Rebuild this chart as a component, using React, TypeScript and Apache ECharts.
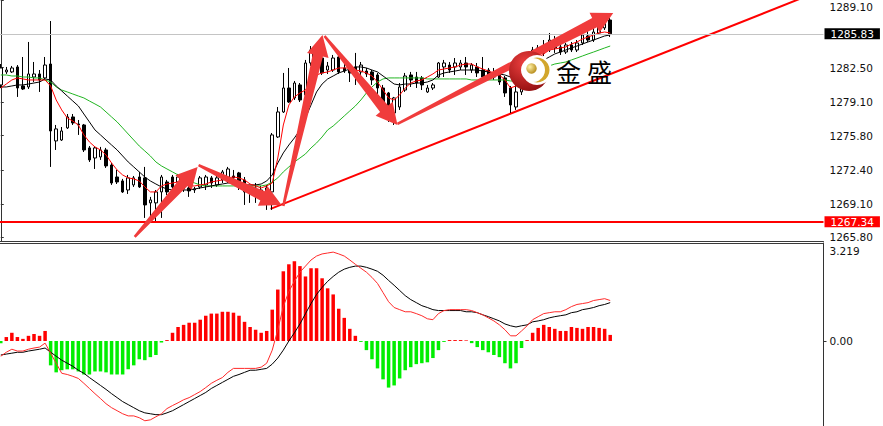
import React, { useEffect, useRef } from "react";
import * as echarts from "echarts";

// ---- data ----
const SLOTS = 149; // category slots along the time axis (111 bars + empty space up to the price scale)
const categories = Array.from({ length: SLOTS }, (_, i) => String(i + 1));

// [open, close, low, high]
const candles: number[][] = [
  [1280.80, 1282.47, 1280.50, 1282.86], [1282.08, 1282.27, 1281.88, 1282.57], [1282.08, 1282.47, 1281.98, 1282.67],
  [1282.57, 1280.50, 1279.62, 1282.76], [1280.70, 1280.40, 1280.30, 1283.55], [1280.60, 1281.88, 1280.40, 1285.03],
  [1281.58, 1281.88, 1281.09, 1283.06], [1281.88, 1281.29, 1280.11, 1282.27], [1281.49, 1282.76, 1281.29, 1283.55],
  [1282.86, 1276.27, 1272.73, 1287.09], [1275.29, 1276.47, 1274.40, 1276.86], [1275.38, 1276.27, 1275.29, 1276.66],
  [1276.57, 1277.65, 1276.47, 1277.94], [1277.65, 1277.06, 1276.86, 1277.94], [1276.96, 1276.86, 1275.88, 1277.35],
  [1276.86, 1274.40, 1274.20, 1276.96], [1274.60, 1273.42, 1273.22, 1274.79], [1273.61, 1274.60, 1272.53, 1274.79],
  [1273.71, 1274.40, 1273.42, 1274.70], [1274.40, 1272.83, 1272.63, 1274.60], [1272.92, 1271.15, 1270.96, 1273.12],
  [1271.74, 1271.25, 1271.05, 1272.43], [1271.35, 1270.27, 1270.17, 1271.55], [1270.46, 1271.65, 1270.07, 1271.94],
  [1270.96, 1271.65, 1270.76, 1271.84], [1271.74, 1270.76, 1270.66, 1272.24], [1271.65, 1268.99, 1267.71, 1272.73],
  [1269.19, 1269.48, 1267.22, 1269.78], [1269.19, 1270.27, 1267.22, 1270.46], [1270.27, 1271.74, 1267.71, 1271.94],
  [1271.25, 1270.27, 1269.97, 1271.45], [1271.74, 1270.76, 1270.46, 1271.94], [1271.25, 1271.74, 1270.96, 1272.04],
  [1271.05, 1270.56, 1270.27, 1271.25], [1270.66, 1270.37, 1269.78, 1270.86], [1270.46, 1270.56, 1270.17, 1270.76],
  [1270.76, 1271.65, 1270.56, 1271.84], [1270.96, 1271.74, 1270.46, 1271.94], [1271.65, 1271.15, 1270.66, 1271.84],
  [1270.96, 1271.65, 1270.76, 1271.84], [1271.45, 1272.24, 1271.15, 1272.43], [1271.65, 1272.53, 1271.15, 1272.73],
  [1271.84, 1271.65, 1270.96, 1272.43], [1272.14, 1271.25, 1270.46, 1272.24], [1271.45, 1270.27, 1268.99, 1271.74],
  [1270.46, 1270.17, 1269.19, 1270.76], [1270.17, 1270.66, 1269.19, 1271.15], [1270.46, 1270.17, 1269.48, 1270.86],
  [1270.17, 1270.66, 1268.50, 1270.96], [1270.27, 1275.88, 1268.50, 1276.07], [1275.68, 1278.14, 1275.58, 1278.63],
  [1278.14, 1280.50, 1278.04, 1281.98], [1280.50, 1279.12, 1279.03, 1282.47], [1279.52, 1280.99, 1279.32, 1281.19],
  [1280.80, 1279.32, 1279.12, 1280.99], [1279.81, 1282.96, 1279.62, 1283.26], [1282.96, 1284.24, 1282.67, 1284.63],
  [1284.04, 1282.76, 1282.27, 1284.24], [1283.45, 1281.98, 1281.78, 1283.65], [1282.27, 1282.67, 1281.88, 1283.06],
  [1282.27, 1283.45, 1282.08, 1283.75], [1283.55, 1282.08, 1281.88, 1283.95], [1282.47, 1282.17, 1281.98, 1282.96],
  [1282.47, 1281.98, 1281.09, 1282.76], [1282.57, 1281.98, 1280.80, 1283.95], [1282.08, 1282.76, 1281.78, 1283.06],
  [1282.17, 1281.88, 1281.58, 1282.47], [1282.08, 1281.29, 1280.80, 1282.27], [1281.78, 1280.50, 1279.62, 1281.98],
  [1280.50, 1279.03, 1278.34, 1280.80], [1280.01, 1277.65, 1277.16, 1280.11], [1278.04, 1279.52, 1276.86, 1279.62],
  [1278.63, 1280.60, 1278.34, 1280.99], [1280.30, 1281.68, 1280.11, 1281.98], [1281.78, 1281.29, 1280.60, 1282.08],
  [1281.58, 1280.99, 1280.50, 1282.08], [1281.49, 1280.80, 1280.30, 1281.68], [1280.11, 1280.50, 1280.01, 1280.80],
  [1280.50, 1280.80, 1280.30, 1280.99], [1281.58, 1282.96, 1281.49, 1283.06], [1282.57, 1282.96, 1281.58, 1283.26],
  [1282.76, 1282.27, 1281.98, 1283.06], [1282.57, 1282.96, 1281.78, 1283.45], [1282.57, 1282.96, 1282.27, 1283.26],
  [1282.96, 1282.57, 1281.78, 1283.55], [1282.27, 1282.76, 1281.98, 1282.96], [1282.57, 1281.98, 1281.58, 1282.96],
  [1282.27, 1281.58, 1281.29, 1283.55], [1282.27, 1281.78, 1281.58, 1282.47], [1281.98, 1281.58, 1281.29, 1282.47],
  [1281.78, 1281.09, 1280.80, 1281.98], [1281.49, 1280.01, 1279.62, 1281.68], [1280.50, 1278.83, 1278.04, 1280.70],
  [1278.63, 1280.11, 1278.34, 1280.80], [1280.11, 1281.49, 1279.81, 1281.68], [1281.58, 1282.47, 1281.29, 1282.76],
  [1283.45, 1284.24, 1283.06, 1284.54], [1283.75, 1284.44, 1283.55, 1284.73], [1284.44, 1283.95, 1283.65, 1285.22],
  [1284.24, 1285.22, 1284.04, 1285.91], [1285.03, 1284.44, 1283.95, 1285.62], [1284.54, 1284.04, 1283.75, 1284.83],
  [1284.04, 1284.73, 1283.85, 1284.93], [1284.73, 1284.24, 1284.04, 1285.03], [1284.24, 1284.93, 1284.04, 1285.22],
  [1284.93, 1285.72, 1284.73, 1286.21], [1285.62, 1285.22, 1285.03, 1286.21], [1285.22, 1286.01, 1285.03, 1286.41],
  [1285.91, 1286.60, 1285.72, 1287.00], [1286.41, 1287.09, 1286.21, 1287.49], [1287.19, 1285.83, 1285.52, 1287.39],
];

const maFast = [
  1280.50, 1280.89, 1281.29, 1281.49, 1281.39, 1281.29, 1281.29, 1281.29, 1281.29, 1280.70,
  1279.32, 1278.34, 1277.55, 1277.25, 1276.86, 1275.88, 1275.19, 1274.70, 1274.40, 1273.91,
  1273.12, 1272.43, 1271.94, 1271.65, 1271.55, 1271.35, 1270.76, 1270.27, 1270.27, 1270.86,
  1271.05, 1271.15, 1271.25, 1271.05, 1270.86, 1270.86, 1270.96, 1271.05, 1271.25, 1271.35,
  1271.45, 1271.65, 1271.74, 1271.65, 1271.45, 1271.05, 1270.86, 1270.66, 1270.86, 1271.15,
  1273.61, 1276.86, 1278.83, 1279.62, 1280.01, 1280.30, 1281.09, 1281.78, 1281.98, 1282.08,
  1282.27, 1282.47, 1282.47, 1282.47, 1282.27, 1282.17, 1281.98, 1281.68, 1281.09, 1280.30,
  1279.52, 1279.32, 1279.81, 1280.50, 1280.99, 1281.19, 1281.29, 1281.58, 1281.88, 1282.27,
  1282.37, 1282.47, 1282.57, 1282.76, 1282.86, 1282.86, 1282.57, 1282.37, 1282.17, 1281.98,
  1281.78, 1281.29, 1280.50, 1280.70, 1281.29, 1282.08, 1282.86, 1283.45, 1283.85, 1284.24,
  1284.34, 1284.44, 1284.54, 1284.83, 1285.03, 1285.32, 1285.52, 1285.72, 1285.91, 1286.01,
  1285.91,
];

const maMid = [
  1280.60, 1280.60, 1280.70, 1280.80, 1280.80, 1280.89, 1280.99, 1281.09, 1281.39, 1281.29,
  1280.70, 1280.21, 1279.71, 1279.22, 1278.73, 1277.94, 1277.16, 1276.37, 1275.88, 1275.38,
  1274.89, 1274.40, 1273.81, 1273.22, 1272.73, 1272.24, 1271.74, 1271.35, 1271.05, 1270.76,
  1270.56, 1270.46, 1270.46, 1270.46, 1270.46, 1270.56, 1270.66, 1270.76, 1270.86, 1270.96,
  1271.05, 1271.15, 1271.15, 1271.05, 1270.96, 1270.96, 1270.96, 1271.05, 1271.35, 1271.94,
  1273.12, 1274.11, 1274.89, 1275.58, 1276.37, 1277.55, 1278.83, 1280.11, 1280.89, 1281.39,
  1281.68, 1281.98, 1282.17, 1282.37, 1282.57, 1282.57, 1282.47, 1282.27, 1282.08, 1281.68,
  1281.29, 1280.89, 1280.80, 1280.89, 1280.89, 1280.99, 1280.99, 1281.09, 1281.29, 1281.78,
  1281.98, 1282.08, 1282.17, 1282.27, 1282.27, 1282.27, 1282.27, 1282.17, 1282.08, 1281.98,
  1281.88, 1281.78, 1281.58, 1281.49, 1281.68, 1282.08, 1282.47, 1282.86, 1283.26, 1283.55,
  1283.85, 1284.04, 1284.24, 1284.44, 1284.63, 1284.83, 1285.03, 1285.22, 1285.42, 1285.62,
  1285.72,
];

const maSlow = [
  1281.78, 1281.78, 1281.68, 1281.68, 1281.58, 1281.58, 1281.49, 1281.49, 1281.29, 1281.09,
  1280.60, 1280.30, 1280.11, 1279.91, 1279.71, 1279.52, 1279.22, 1278.93, 1278.63, 1278.14,
  1277.65, 1277.16, 1276.57, 1275.97, 1275.38, 1274.79, 1274.30, 1273.81, 1273.22, 1272.83,
  1272.53, 1272.24, 1271.94, 1271.65, 1271.35, 1271.15, 1270.96, 1270.86, 1270.86, 1270.86,
  1270.86, 1270.86, 1270.86, 1270.86, 1270.86, 1270.86, 1270.86, 1270.86, 1270.96, 1271.25,
  1271.65, 1272.24, 1272.73, 1273.22, 1273.61, 1274.01, 1274.60, 1275.09, 1275.68, 1276.37,
  1276.76, 1277.25, 1277.75, 1278.24, 1278.73, 1279.32, 1280.01, 1280.60, 1281.09, 1281.39,
  1281.49, 1281.49, 1281.49, 1281.49, 1281.49, 1281.49, 1281.49, 1281.39, 1281.39, 1281.39,
  1281.39, 1281.39, 1281.39, 1281.39, 1281.39, 1281.29, 1281.29, 1281.29, 1281.29, 1281.29,
  1281.29, 1281.29, 1281.19, 1281.19, 1281.29, 1281.58, 1281.88, 1282.17, 1282.47, 1282.67,
  1282.86, 1282.96, 1283.06, 1283.26, 1283.45, 1283.65, 1283.85, 1284.04, 1284.24, 1284.44,
  1284.63,
];

const macdHist = [
  -0.07, 0.13, 0.27, 0.13, 0.07, 0.17, 0.23, 0.17, 0.33, -0.80,
  -1.03, -0.96, -0.93, -0.93, -1.00, -1.10, -1.10, -1.00, -1.00, -1.03,
  -1.10, -1.10, -1.10, -0.93, -0.80, -0.60, -0.63, -0.53, -0.46, -0.05,
  0.03, 0.27, 0.46, 0.53, 0.60, 0.60, 0.70, 0.83, 0.90, 0.90,
  0.96, 0.96, 0.93, 0.83, 0.63, 0.46, 0.37, 0.27, 0.33, 1.03,
  1.69, 2.29, 2.52, 2.62, 2.46, 2.12, 2.39, 2.39, 2.06, 1.73,
  1.53, 1.06, 0.76, 0.40, 0.17, -0.03, -0.30, -0.60, -0.90, -1.26,
  -1.53, -1.46, -1.23, -0.96, -0.86, -0.76, -0.73, -0.70, -0.56, -0.30,
  -0.03, 0.03, 0.03, 0.03, 0.02, -0.07, -0.20, -0.30, -0.37, -0.46,
  -0.53, -0.73, -0.90, -0.73, -0.23, 0.03, 0.27, 0.43, 0.53, 0.46,
  0.40, 0.33, 0.33, 0.46, 0.43, 0.40, 0.46, 0.46, 0.43, 0.40,
  0.20,
];

const macdMain = [
  -0.50, -0.37, -0.27, -0.33, -0.33, -0.27, -0.23, -0.20, -0.07, -0.40,
  -0.73, -1.06, -1.10, -1.16, -1.23, -1.39, -1.56, -1.73, -1.89, -2.06,
  -2.19, -2.29, -2.39, -2.46, -2.46, -2.52, -2.62, -2.59, -2.49, -2.39,
  -2.22, -2.12, -2.03, -1.93, -1.86, -1.76, -1.66, -1.53, -1.39, -1.29,
  -1.20, -1.03, -0.90, -0.90, -0.90, -0.90, -0.90, -0.86, -0.73, -0.30,
  0.37, 1.13, 1.63, 1.96, 2.26, 2.46, 2.66, 2.79, 2.86, 2.89,
  2.92, 2.86, 2.79, 2.66, 2.52, 2.39, 2.26, 2.09, 1.89, 1.59,
  1.29, 1.10, 1.03, 0.96, 0.96, 0.90, 0.83, 0.73, 0.70, 0.90,
  1.00, 1.03, 1.03, 1.03, 1.03, 1.00, 0.93, 0.86, 0.76, 0.66,
  0.53, 0.37, 0.17, 0.17, 0.33, 0.50, 0.70, 0.80, 0.90, 0.93,
  0.96, 0.96, 1.03, 1.13, 1.20, 1.23, 1.26, 1.33, 1.36, 1.39,
  1.33,
];

const macdSignal = [
  -0.46, -0.43, -0.40, -0.37, -0.37, -0.33, -0.30, -0.27, -0.23, -0.37,
  -0.50, -0.63, -0.73, -0.83, -0.96, -1.06, -1.20, -1.33, -1.46, -1.59,
  -1.73, -1.86, -1.99, -2.09, -2.19, -2.29, -2.36, -2.39, -2.42, -2.42,
  -2.36, -2.29, -2.19, -2.09, -1.99, -1.89, -1.79, -1.69, -1.56, -1.46,
  -1.36, -1.26, -1.16, -1.10, -1.03, -0.96, -0.96, -0.93, -0.90, -0.76,
  -0.56, -0.30, 0.00, 0.27, 0.56, 0.90, 1.23, 1.53, 1.76, 1.96,
  2.12, 2.26, 2.36, 2.42, 2.46, 2.46, 2.42, 2.36, 2.29, 2.16,
  1.99, 1.83, 1.66, 1.49, 1.36, 1.26, 1.16, 1.10, 1.03, 1.00,
  1.00, 1.00, 1.00, 1.00, 0.96, 0.96, 0.93, 0.86, 0.80, 0.73,
  0.66, 0.56, 0.50, 0.46, 0.50, 0.53, 0.63, 0.66, 0.70, 0.76,
  0.80, 0.83, 0.86, 0.93, 0.96, 1.03, 1.06, 1.10, 1.16, 1.20,
  1.26,
];

const priceTicks = [1289.1, 1282.5, 1279.1, 1275.8, 1272.4, 1269.1, 1265.8];
const priceMin = 1265.44;
const priceMax = 1289.16;
const lastPrice = 1285.83;
const supportLevel = 1267.34;
const macdTop = 3.219;
const macdMin = -2.792;
const macdTicks = [0, macdTop];

// trend line: [bar position, price]
const trendLine = [[48.7, 1268.6], [148.5, 1290.2]];
// arrows: [tail position, tail price, tip position, tip price]
const arrows = [
  [24.17, 1265.84, 35.53, 1272.73],
  [35.7, 1272.9, 50.68, 1268.99],
  [51.0, 1268.89, 58.07, 1285.72],
  [58.43, 1285.62, 71.6, 1276.86],
  [71.6, 1276.96, 110.55, 1287.88],
];

const FONT = "DejaVu Sans";
const ARROW = { tail: 2.5, body: 10.5, head: 22, headLen: 21 };

export default function App() {
  const ref = useRef<HTMLDivElement>(null);
  useEffect(() => {
    document.body.style.margin = "0";
    const chart = echarts.init(ref.current!, null, { renderer: "svg" });
    const hidden = {
      axisLine: { show: false }, axisTick: { show: false },
      axisLabel: { show: false }, splitLine: { show: false },
    };
    const option: any = {
      animation: false,
      backgroundColor: "#ffffff",
      tooltip: { show: false },
      grid: [
        { left: -2, top: 0, width: 825.5, height: 241, outerBoundsMode: "none", containLabel: false },
        { left: -2, top: 243, width: 825.5, height: 183, outerBoundsMode: "none", containLabel: false },
      ],
      xAxis: [
        {
          type: "category", gridIndex: 0, data: categories, boundaryGap: true,
          axisLine: { show: true, onZero: false, lineStyle: { color: "#3a3a3a", width: 1 } },
          axisTick: { show: false }, axisLabel: { show: false }, splitLine: { show: false },
        },
        { type: "value", gridIndex: 0, min: -0.5, max: SLOTS - 0.5, ...hidden },
        {
          type: "category", gridIndex: 1, data: categories, boundaryGap: true, position: "top",
          axisLine: { show: true, onZero: false, lineStyle: { color: "#3a3a3a", width: 1 } },
          axisTick: { show: false }, axisLabel: { show: false }, splitLine: { show: false },
        },
      ],
      yAxis: [
        {
          type: "value", gridIndex: 0, position: "right", min: priceMin, max: priceMax,
          axisLine: { show: true, lineStyle: { color: "#333", width: 1 } },
          axisTick: { show: true, inside: false, length: 3, customValues: priceTicks, lineStyle: { color: "#333" } },
          axisLabel: {
            customValues: priceTicks, margin: 6, color: "#111", fontSize: 10.5, fontFamily: FONT,
            formatter: (v: number) => (v > priceMax - 0.2 ? `{top|${v.toFixed(2)}}` : v.toFixed(2)),
            rich: { top: { padding: [12, 0, 0, 0], color: "#111", fontSize: 10.5, fontFamily: FONT } },
          },
          splitLine: { show: false },
        },
        {
          type: "value", gridIndex: 1, position: "right", min: macdMin, max: macdTop,
          axisLine: { show: true, lineStyle: { color: "#333", width: 1 } },
          axisTick: { show: true, length: 3, customValues: [0], lineStyle: { color: "#333" } },
          axisLabel: {
            customValues: macdTicks, margin: 6, color: "#111", fontSize: 10.5, fontFamily: FONT,
            formatter: (v: number) => (Math.abs(v) < 1e-9 ? "0.00" : `{t|${v.toFixed(3)}}`),
            rich: { t: { padding: [15, 0, 0, 0], color: "#111", fontSize: 10.5, fontFamily: FONT } },
          },
          splitLine: { show: false },
        },
      ],
      series: [
        {
          type: "line", xAxisIndex: 1, yAxisIndex: 0, data: trendLine, symbol: "none", silent: true,
          clip: true, z: 1, lineStyle: { color: "#ff0000", width: 2 },
        },
        {
          type: "candlestick", xAxisIndex: 0, yAxisIndex: 0, data: candles, barWidth: 3, z: 2,
          itemStyle: { color: "#ffffff", color0: "#000000", borderColor: "#000000", borderColor0: "#000000", borderWidth: 1 },
          markLine: {
            silent: true, symbol: ["none", "none"], animation: false,
            data: [
              {
                yAxis: lastPrice, lineStyle: { color: "#c4c4c4", width: 1, type: "solid" },
                label: {
                  show: true, position: "end", distance: 1, formatter: () => lastPrice.toFixed(2),
                  color: "#fff", backgroundColor: "#000", padding: [1, 6, 0, 6], lineHeight: 10,
                  fontSize: 10.5, fontFamily: FONT,
                },
              },
              {
                yAxis: supportLevel, lineStyle: { color: "#ff0000", width: 2, type: "solid" },
                label: {
                  show: true, position: "end", distance: 1, formatter: () => supportLevel.toFixed(2),
                  color: "#fff", backgroundColor: "#ff0000", padding: [1, 6, 0, 6], lineHeight: 10,
                  fontSize: 10.5, fontFamily: FONT,
                },
              },
            ],
          },
        },
        { type: "line", xAxisIndex: 0, yAxisIndex: 0, data: maSlow, symbol: "none", silent: true, z: 3, lineStyle: { color: "#22b522", width: 1 } },
        { type: "line", xAxisIndex: 0, yAxisIndex: 0, data: maMid, symbol: "none", silent: true, z: 3, lineStyle: { color: "#000000", width: 1 } },
        { type: "line", xAxisIndex: 0, yAxisIndex: 0, data: maFast, symbol: "none", silent: true, z: 3, lineStyle: { color: "#ff0000", width: 1 } },
        {
          type: "custom", xAxisIndex: 1, yAxisIndex: 0, data: arrows, z: 5, silent: true,
          encode: { x: [0, 2], y: [1, 3] },
          renderItem: (_p: any, api: any) => {
            const t = api.coord([api.value(0), api.value(1)]);
            const p = api.coord([api.value(2), api.value(3)]);
            const dx = p[0] - t[0], dy = p[1] - t[1];
            const len = Math.hypot(dx, dy) || 1;
            const ux = dx / len, uy = dy / len;
            const nx = -uy, ny = ux;
            const bx = p[0] - ux * ARROW.headLen, by = p[1] - uy * ARROW.headLen;
            const pts = [
              [t[0] + (nx * ARROW.tail) / 2, t[1] + (ny * ARROW.tail) / 2],
              [bx + (nx * ARROW.body) / 2, by + (ny * ARROW.body) / 2],
              [bx + (nx * ARROW.head) / 2, by + (ny * ARROW.head) / 2],
              [p[0], p[1]],
              [bx - (nx * ARROW.head) / 2, by - (ny * ARROW.head) / 2],
              [bx - (nx * ARROW.body) / 2, by - (ny * ARROW.body) / 2],
              [t[0] - (nx * ARROW.tail) / 2, t[1] - (ny * ARROW.tail) / 2],
            ];
            return { type: "polygon", shape: { points: pts }, style: { fill: "#f03c3c" } };
          },
        },
        {
          type: "bar", xAxisIndex: 2, yAxisIndex: 1, barWidth: 3.5, silent: true,
          data: macdHist.map((v) => ({ value: v, itemStyle: { color: v >= 0 ? "#ff0000" : "#00ee00" } })),
        },
        { type: "line", xAxisIndex: 2, yAxisIndex: 1, data: macdSignal, symbol: "none", silent: true, z: 3, lineStyle: { color: "#000000", width: 1 } },
        { type: "line", xAxisIndex: 2, yAxisIndex: 1, data: macdMain, symbol: "none", silent: true, z: 3, lineStyle: { color: "#ff2a2a", width: 1 } },
      ],
      graphic: {
        elements: [
          {
            type: "circle", z: 100, shape: { cx: 529, cy: 71, r: 20 },
            style: {
              fill: new echarts.graphic.RadialGradient(0.4, 0.3, 0.8, [
                { offset: 0, color: "#ee4040" }, { offset: 1, color: "#8c0c0c" },
              ]),
            },
          },
          { type: "circle", z: 101, shape: { cx: 537, cy: 70, r: 15 }, style: { fill: "#ffffff" } },
          { type: "circle", z: 102, shape: { cx: 537, cy: 70, r: 12.5 }, style: { fill: "#d2a62c" } },
          { type: "circle", z: 103, shape: { cx: 533, cy: 70, r: 12 }, style: { fill: "#ffffff" } },
          {
            type: "circle", z: 104, shape: { cx: 531.5, cy: 68.5, r: 5.2 },
            style: {
              fill: new echarts.graphic.RadialGradient(0.35, 0.35, 0.75, [
                { offset: 0, color: "#fff2a8" }, { offset: 1, color: "#b0820e" },
              ]),
            },
          },
          { type: "text", z: 105, x: 556, y: 58, style: { text: "金", fontSize: 25, fontFamily: "Noto Sans CJK SC", fill: "#000" } },
          { type: "text", z: 105, x: 587, y: 58, style: { text: "盛", fontSize: 25, fontFamily: "Noto Sans CJK SC", fill: "#000" } },
        ],
      },
    };
    chart.setOption(option);
    return () => chart.dispose();
  }, []);
  return <div ref={ref} style={{ width: 883, height: 426 }} />;
}
